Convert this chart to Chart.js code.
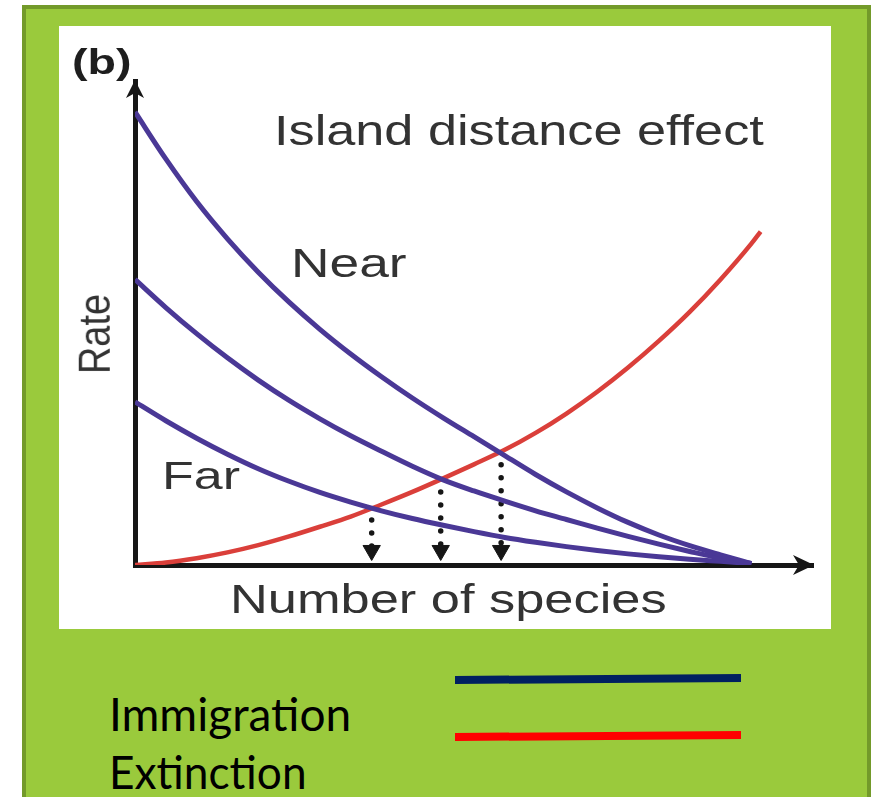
<!DOCTYPE html>
<html><head><meta charset="utf-8">
<script src="https://cdn.jsdelivr.net/npm/chart.js@4.4.1/dist/chart.umd.min.js"></script>
<style>
html,body{margin:0;padding:0;width:877px;height:797px;overflow:hidden;background:#fff;}
#box{position:absolute;left:22px;top:5px;width:841px;height:830px;background:#9ACA3C;border:4px solid #739A2A;}
#panel{position:absolute;left:59px;top:26px;width:772px;height:603px;background:#fff;}
#chart{position:absolute;left:0;top:0;}
.lbl{position:absolute;white-space:nowrap;line-height:1;transform-origin:0 0;}
.mk{display:inline-block;width:0;height:0;}
.leg{position:absolute;height:8px;transform-origin:0 50%;}
</style>
</head><body>
<div id="box"></div>
<div id="panel"><canvas id="chart" width="772" height="603"></canvas></div>
<div class="leg" style="left:455px;top:676px;width:286px;background:#002060;transform:rotate(-0.4deg);"></div>
<div class="leg" style="left:455px;top:733px;width:286px;background:#FF0000;transform:rotate(-0.4deg);"></div>
<script>
// ---- data ----
const speciesX = [0,5,10,15,20,25,30,35,40,45,50,55,60,65,70,75,80,85,90,95,100];
const nearRate = [93.6,83.9,75.1,67.4,60.5,54.3,48.7,43.6,38.9,34.5,30.4,26.5,22.6,18.7,15.1,11.8,8.8,6.2,4.0,2.1,0.3];
const midRate  = [59,53.2,47.8,42.8,38.2,34.0,30.2,26.7,23.5,20.4,17.6,15.3,13.2,11.2,9.4,7.6,5.9,4.3,2.8,1.4,0.3];
const farRate  = [33.7,29.8,26.2,22.9,19.9,17.3,15.0,13.0,11.2,9.6,8.2,6.9,5.7,4.7,3.8,3.0,2.3,1.7,1.2,0.75,0.3];
const extX = [0,5,10,15,20,25,30,35,40,45,50,55,60,65,70,75,80,85,90,95,100,101.5];
const extinctionRate = [0,0.5,1.4,2.6,4.1,5.9,7.9,10.0,12.5,15.1,17.9,20.8,23.8,27.3,31.3,35.8,40.8,46.3,52.3,59.0,66.4,68.9];
const equilibriumX = [38.4,49.6,59.4];
const arrowTop = [9.3,15.1,20.7];
const arrowBottom = 3.0;
const xMax = 110, yMax = 100;

const BLUE = '#4A3896', RED = '#DA3F3A', AX = '#161616';
const pts = (xs, ys) => xs.map((x,i)=>({x, y: ys[i]}));
const curve = (data, color, w) => ({data, borderColor: color, borderWidth: w, pointRadius: 0, fill: false, cubicInterpolationMode: 'monotone'});

const datasets = [
  curve(pts(speciesX, nearRate), BLUE, 5),
  curve(pts(speciesX, midRate), BLUE, 5),
  curve(pts(speciesX, farRate), BLUE, 5),
  curve(pts(extX, extinctionRate), RED, 4.5)
];
equilibriumX.forEach((x,i)=>{
  datasets.push({
    data: [{x, y: arrowTop[i]}, {x, y: arrowBottom}],
    borderColor: AX, borderWidth: 5.5, borderDash: [0, 13], borderCapStyle: 'round',
    pointRadius: [0, 10], pointStyle: 'triangle', pointRotation: 180,
    pointBackgroundColor: AX, pointBorderColor: AX, pointBorderWidth: 1, fill: false
  });
});

const axisArrows = {
  id: 'axisArrows',
  afterDatasetsDraw(chart){
    const {ctx, chartArea:{left, top, right, bottom}} = chart;
    ctx.save();
    ctx.fillStyle = AX;
    ctx.beginPath();
    ctx.moveTo(left, top - 1); ctx.lineTo(left + 9, top + 17); ctx.lineTo(left, top + 12); ctx.lineTo(left - 9, top + 17);
    ctx.closePath(); ctx.fill();
    ctx.beginPath();
    ctx.moveTo(right + 1, bottom); ctx.lineTo(right - 20, bottom - 10); ctx.lineTo(right - 14, bottom); ctx.lineTo(right - 20, bottom + 10);
    ctx.closePath(); ctx.fill();
    ctx.restore();
  }
};

const noSize = s => { if (s.isHorizontal()) s.height = 0; else s.width = 0; };
new Chart(document.getElementById('chart'), {
  type: 'line',
  data: { datasets },
  options: {
    responsive: false, animation: false, events: [],
    layout: { padding: { left: 76, right: 18, top: 55, bottom: 64 } },
    plugins: { legend: { display: false }, tooltip: { enabled: false } },
    scales: {
      x: { type: 'linear', min: 0, max: xMax, afterFit: noSize,
           grid: { display: false, drawTicks: false }, ticks: { display: false },
           border: { display: true, color: AX, width: 5 } },
      y: { type: 'linear', min: 0, max: yMax, afterFit: noSize,
           grid: { display: false, drawTicks: false }, ticks: { display: false },
           border: { display: true, color: AX, width: 5 } }
    }
  },
  plugins: [axisArrows]
});

// ---- text labels ----
const AR = '"Liberation Sans", Arial, sans-serif';
const labels = [
  {t:'(b)', f:'bold 35px ' + AR, x:72, b:74, w:60, c:'#1e1e1e'},
  {t:'Island distance effect', f:'42px ' + AR, x:274, b:145, w:490, c:'#333'},
  {t:'Near', f:'40px ' + AR, x:291, b:277, w:116, c:'#333'},
  {t:'Far', f:'38px ' + AR, x:162, b:489, w:78, c:'#333'},
  {t:'Number of species', f:'40px ' + AR, x:230, b:613, w:436, c:'#333'},
  {t:'Immigration', f:'46px Lato, "Open Sans", sans-serif', x:109, b:731, w:242, c:'#000'},
  {t:'Extinction', f:'46px Lato, "Open Sans", sans-serif', x:109, b:789, w:198, c:'#000'}
];
function makeLabel(L){
  const d = document.createElement('div');
  d.className = 'lbl'; d.style.font = L.f; d.style.color = L.c;
  d.textContent = L.t;
  const m = document.createElement('span'); m.className = 'mk'; d.appendChild(m);
  document.body.appendChild(d);
  return [d, m];
}
labels.forEach(L=>{
  const [d, m] = makeLabel(L);
  const base = m.offsetTop;
  const w = d.offsetWidth;
  d.style.left = L.x + 'px';
  d.style.top = (L.b - base) + 'px';
  d.style.transform = 'scaleX(' + (L.w / w) + ')';
});
// rotated axis title
(function(){
  const [d] = makeLabel({t:'Rate', f:'36px ' + AR, c:'#333'});
  const w = d.offsetWidth, h = d.offsetHeight;
  d.style.transformOrigin = '50% 50%';
  d.style.left = (95 - w/2) + 'px';
  d.style.top = (334 - h/2) + 'px';
  d.style.transform = 'scaleX(1.25) rotate(-90deg) scaleX(' + (80 / w) + ')';
})();
</script>
</body></html>
